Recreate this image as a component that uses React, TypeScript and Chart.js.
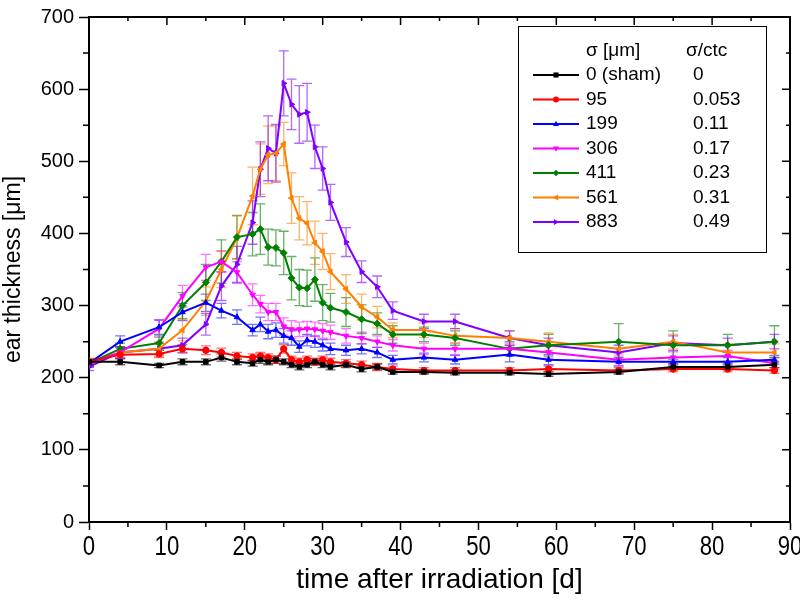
import React, { useEffect, useRef } from "react";
import { Chart, registerables } from "chart.js";

Chart.register(...registerables);

const days = [0, 4, 9, 12, 15, 17, 19, 21, 22, 23, 24, 25, 26, 27, 28, 29, 30, 31, 33, 35, 37, 39, 43, 47, 54, 59, 68, 75, 82, 88];
const xTickLabels = ["0", "10", "20", "30", "40", "50", "60", "70", "80", "90"];

const sham = [222, 222, 217, 222, 222, 228, 222, 220, 225, 222, 225, 222, 218, 215, 218, 222, 218, 215, 218, 212, 215, 208, 208, 207, 207, 205, 208, 215, 215, 218];
const shamErr = [4, 4, 3, 4, 4, 5, 4, 4, 5, 4, 5, 4, 4, 4, 4, 4, 4, 4, 4, 4, 4, 3, 3, 3, 3, 3, 3, 4, 4, 4];

const s95 = [222, 232, 233, 240, 238, 235, 230, 228, 230, 228, 225, 240, 225, 222, 225, 222, 225, 222, 220, 218, 215, 212, 210, 210, 210, 212, 210, 212, 212, 210];
const s95Err = [4, 5, 5, 6, 6, 6, 5, 5, 5, 5, 5, 6, 5, 5, 5, 5, 5, 5, 5, 5, 5, 4, 4, 4, 4, 4, 4, 4, 4, 4];

const s199 = [220, 250, 270, 291, 304, 293, 284, 266, 274, 264, 266, 258, 255, 243, 252, 250, 245, 240, 238, 240, 235, 225, 228, 225, 232, 225, 222, 222, 222, 225];
const s199Err = [5, 8, 10, 12, 12, 10, 10, 8, 10, 10, 10, 10, 10, 8, 8, 8, 8, 8, 7, 7, 7, 6, 6, 6, 10, 7, 6, 6, 6, 6];

const s306 = [220, 235, 268, 313, 353, 361, 346, 315, 302, 291, 291, 271, 267, 267, 268, 267, 265, 263, 258, 255, 250, 245, 240, 240, 240, 235, 225, 228, 230, 220];
const s306Err = [5, 8, 12, 15, 18, 15, 15, 15, 12, 12, 12, 12, 12, 10, 10, 10, 10, 10, 10, 8, 8, 8, 8, 8, 8, 8, 8, 8, 8, 8];

const s411 = [220, 240, 248, 300, 332, 361, 395, 399, 406, 381, 380, 373, 338, 325, 324, 336, 304, 297, 291, 281, 275, 260, 260, 255, 240, 245, 250, 245, 245, 250];
const s411Err = [5, 8, 10, 18, 25, 30, 30, 30, 35, 25, 25, 30, 30, 25, 25, 30, 25, 20, 20, 20, 15, 12, 10, 10, 10, 15, 25, 20, 15, 22];

const s561 = [222, 235, 240, 266, 306, 350, 394, 452, 489, 509, 511, 524, 449, 421, 414, 387, 375, 347, 323, 298, 284, 266, 266, 258, 255, 250, 240, 250, 235, 235];
const s561Err = [5, 8, 10, 15, 20, 25, 30, 40, 35, 40, 38, 30, 35, 30, 30, 30, 25, 25, 20, 18, 15, 10, 10, 10, 10, 12, 10, 10, 12, 12];

const s883 = [215, 235, 240, 245, 274, 327, 357, 415, 489, 518, 511, 608, 579, 565, 568, 520, 490, 443, 388, 347, 326, 293, 278, 278, 255, 245, 235, 248, 245, 250];
const s883Err = [5, 8, 8, 10, 15, 20, 25, 30, 38, 45, 40, 45, 35, 40, 40, 30, 30, 25, 20, 15, 15, 12, 10, 10, 10, 10, 10, 10, 10, 10];

const sigmaLabels = ["0 (sham)", "95", "199", "306", "411", "561", "883"];
const ratioLabels = ["0", "0.053", "0.11", "0.17", "0.23", "0.31", "0.49"];
const colors = ["#000000", "#ff0000", "#0000ff", "#ff00ff", "#008000", "#ff8000", "#8000ff"];
const errColors = ["rgba(0,0,0,0.6)", "rgba(255,0,0,0.55)", "rgba(0,0,255,0.55)", "rgba(255,0,255,0.55)", "rgba(0,128,0,0.6)", "rgba(255,128,0,0.6)", "rgba(128,0,255,0.6)"];
const markers = ["rect", "circle", "triangle", "triangle", "rectRot", "triangle", "triangle"];
const rotations = [0, 0, 0, 180, 0, -90, 90];

const seriesValues = [sham, s95, s199, s306, s411, s561, s883];
const seriesErrors = [shamErr, s95Err, s199Err, s306Err, s411Err, s561Err, s883Err];

const SANS = "'Liberation Sans', Arial, sans-serif";

function drawMarker(ctx: CanvasRenderingContext2D, style: string, rot: number, x: number, y: number, r: number) {
  ctx.save();
  ctx.translate(x, y);
  ctx.rotate((rot * Math.PI) / 180);
  ctx.beginPath();
  if (style === "rect") {
    ctx.rect(-r * 0.85, -r * 0.85, r * 1.7, r * 1.7);
  } else if (style === "circle") {
    ctx.arc(0, 0, r, 0, Math.PI * 2);
  } else if (style === "rectRot") {
    ctx.moveTo(0, -r * 1.1);
    ctx.lineTo(r * 1.1, 0);
    ctx.lineTo(0, r * 1.1);
    ctx.lineTo(-r * 1.1, 0);
    ctx.closePath();
  } else {
    ctx.moveTo(0, -r * 1.1);
    ctx.lineTo(r, r * 0.7);
    ctx.lineTo(-r, r * 0.7);
    ctx.closePath();
  }
  ctx.fill();
  ctx.restore();
}

const errorBarPlugin = {
  id: "errorBars",
  beforeDatasetsDraw(chart: any) {
    const ctx = chart.ctx as CanvasRenderingContext2D;
    const xs = chart.scales.x;
    const ys = chart.scales.y;
    const area = chart.chartArea;
    ctx.save();
    ctx.beginPath();
    ctx.rect(area.left, area.top, area.right - area.left, area.bottom - area.top);
    ctx.clip();
    seriesValues.forEach((vals, si) => {
      const errs = seriesErrors[si];
      ctx.strokeStyle = errColors[si];
      ctx.lineWidth = 1.3;
      vals.forEach((v, i) => {
        const px = xs.getPixelForValue(days[i]);
        const top = ys.getPixelForValue(v + errs[i]);
        const bot = ys.getPixelForValue(v - errs[i]);
        ctx.beginPath();
        ctx.moveTo(px, top);
        ctx.lineTo(px, bot);
        ctx.moveTo(px - 5, top);
        ctx.lineTo(px + 5, top);
        ctx.moveTo(px - 5, bot);
        ctx.lineTo(px + 5, bot);
        ctx.stroke();
      });
    });
    ctx.restore();
  },
};

const framePlugin = {
  id: "frame",
  afterDraw(chart: any) {
    const ctx = chart.ctx as CanvasRenderingContext2D;
    const xs = chart.scales.x;
    const ys = chart.scales.y;
    const a = chart.chartArea;
    ctx.save();
    ctx.strokeStyle = "#000";
    ctx.lineWidth = 2;
    ctx.beginPath();
    ctx.moveTo(a.left, a.top);
    ctx.lineTo(a.right, a.top);
    ctx.lineTo(a.right, a.bottom);
    ctx.stroke();
    ctx.lineWidth = 1.5;
    ctx.beginPath();
    for (let d = 0; d <= 90; d += 5) {
      const px = xs.getPixelForValue(d);
      const major = d % 10 === 0;
      ctx.moveTo(px, a.top);
      ctx.lineTo(px, a.top + (major ? 8 : 4));
      if (!major) {
        ctx.moveTo(px, a.bottom);
        ctx.lineTo(px, a.bottom + 5);
      }
    }
    for (let v = 0; v <= 700; v += 50) {
      const py = ys.getPixelForValue(v);
      const major = v % 100 === 0;
      ctx.moveTo(a.right, py);
      ctx.lineTo(a.right - (major ? 8 : 4), py);
      if (!major) {
        ctx.moveTo(a.left, py);
        ctx.lineTo(a.left - 6, py);
      }
    }
    ctx.stroke();

    // x tick labels (condensed)
    ctx.fillStyle = "#000";
    ctx.font = `27px ${SANS}`;
    ctx.textAlign = "center";
    ctx.textBaseline = "middle";
    xTickLabels.forEach((t) => {
      const px = xs.getPixelForValue(Number(t));
      ctx.save();
      ctx.translate(px, a.bottom + 26);
      ctx.scale(0.82, 1);
      ctx.fillText(t, 0, 0);
      ctx.restore();
    });

    // legend box
    const lx = 518, ly = 26, lw = 248, lh = 226;
    ctx.fillStyle = "#fff";
    ctx.fillRect(lx, ly, lw, lh);
    ctx.strokeStyle = "#000";
    ctx.lineWidth = 1;
    ctx.strokeRect(lx + 0.5, ly + 0.5, lw, lh);
    ctx.fillStyle = "#000";
    ctx.font = `19px ${SANS}`;
    ctx.textBaseline = "middle";
    ctx.textAlign = "left";
    ctx.fillText("σ [μm]", 586, 51);
    ctx.fillText("σ/ctc", 686, 51);
    for (let i = 0; i < sigmaLabels.length; i++) {
      const y = 75 + i * 24.5;
      ctx.strokeStyle = colors[i];
      ctx.lineWidth = 2;
      ctx.beginPath();
      ctx.moveTo(533, y);
      ctx.lineTo(579, y);
      ctx.stroke();
      ctx.fillStyle = colors[i];
      drawMarker(ctx, markers[i], rotations[i], 556, y, 3);
      ctx.fillStyle = "#000";
      ctx.fillText(sigmaLabels[i], 586, y);
      ctx.fillText(ratioLabels[i], 693, y);
    }
    ctx.restore();
  },
};

export default function App() {
  const ref = useRef<HTMLCanvasElement | null>(null);
  useEffect(() => {
    if (!ref.current) return;
    const datasets = seriesValues.map((vals, si) => ({
      label: sigmaLabels[si],
      data: vals.map((v, i) => ({ x: days[i], y: v })),
      showLine: true,
      borderColor: colors[si],
      backgroundColor: colors[si],
      borderWidth: 2,
      pointStyle: markers[si] as any,
      pointRotation: rotations[si],
      pointRadius: si === 4 ? 3.5 : 3.2,
      pointBorderWidth: 1,
      pointBackgroundColor: colors[si],
      pointBorderColor: colors[si],
      tension: 0,
    }));
    const chart = new Chart(ref.current, {
      type: "scatter",
      data: { datasets },
      options: {
        animation: false,
        responsive: false,
        events: [],
        layout: { padding: { top: 8, right: 10, left: 0, bottom: 0 } },
        plugins: { legend: { display: false }, tooltip: { enabled: false } },
        scales: {
          x: {
            type: "linear",
            min: 0,
            max: 90,
            ticks: { display: false, stepSize: 10 },
            grid: { drawOnChartArea: false, drawTicks: true, tickLength: 8, tickColor: "#000", tickWidth: 1.5 },
            border: { color: "#000", width: 2 },
            title: { display: true, text: "time after irradiation [d]", color: "#000", font: { family: SANS, size: 28 }, padding: { top: 0, bottom: 11 } },
            afterFit: (s: any) => { s.height = 86; },
          },
          y: {
            type: "linear",
            min: 0,
            max: 700,
            ticks: { stepSize: 100, color: "#000", font: { family: SANS, size: 20 }, padding: 5 },
            grid: { drawOnChartArea: false, tickLength: 10, tickColor: "#000", tickWidth: 1.5 },
            border: { color: "#000", width: 2 },
            title: { display: true, text: "ear thickness [μm]", color: "#000", font: { family: SANS, size: 23 }, padding: { top: 0, bottom: 0 } },
            afterFit: (s: any) => { s.width = 89; },
          },
        },
      },
      plugins: [errorBarPlugin, framePlugin],
    } as any);
    return () => chart.destroy();
  }, []);
  return (
    <div style={{ position: "absolute", left: 0, top: 0, width: 800, height: 608, background: "#fff" }}>
      <canvas ref={ref} width={800} height={608} style={{ width: 800, height: 608, display: "block" }} />
    </div>
  );
}
